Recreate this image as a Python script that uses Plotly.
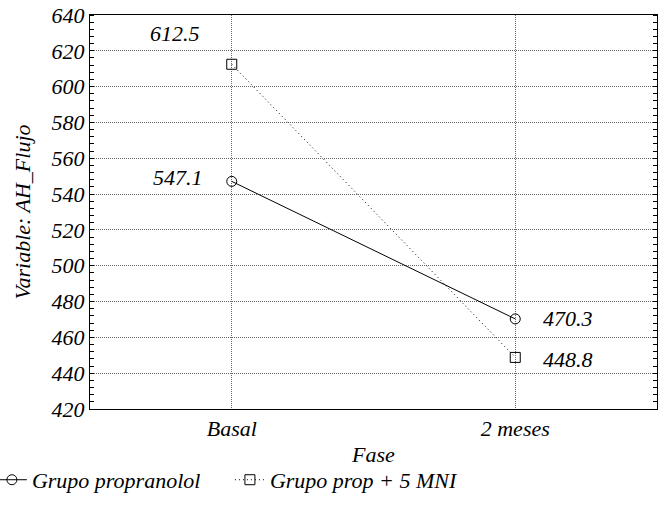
import plotly.graph_objects as go

categories = ["Basal", "2 meses"]
propranolol = [547.1, 470.3]
prop_mni = [612.5, 448.8]
series_names = ["Grupo propranolol", "Grupo prop + 5 MNI"]
y_ticks = list(range(420, 641, 20))

FONT = "Liberation Serif"
FS = 22


def ital():
    return dict(family=FONT, size=FS, style="italic", color="black")


fig = go.Figure()
fig.add_trace(go.Scatter(
    x=categories, y=propranolol, name=series_names[0], mode="lines+markers",
    line=dict(color="black", width=1),
    marker=dict(symbol="circle-open", size=10, color="black", line=dict(width=1)),
))
fig.add_trace(go.Scatter(
    x=categories, y=prop_mni, name=series_names[1], mode="lines+markers",
    line=dict(color="black", width=1, dash="1px,3px"),
    marker=dict(symbol="square-open", size=10, color="black", line=dict(width=1)),
))

label_specs = [
    (categories[0], propranolol[0], "right", -27, 4),
    (categories[1], propranolol[1], "left", 26, 0),
    (categories[0], prop_mni[0], "right", -30, 31),
    (categories[1], prop_mni[1], "left", 26, -2),
]
for x, y, anchor, xs, ys in label_specs:
    fig.add_annotation(x=x, y=y, text=f"{y:.1f}", showarrow=False,
                       xanchor=anchor, yanchor="middle", xshift=xs, yshift=ys,
                       font=ital())

fig.update_layout(
    template="none",
    width=668, height=515,
    margin=dict(l=90, r=11, t=15, b=106, autoexpand=False),
    paper_bgcolor="white", plot_bgcolor="white",
    font=ital(),
    showlegend=True,
    legend=dict(orientation="h", x=-0.173, xanchor="left", y=-0.18, yanchor="middle",
                entrywidth=193, entrywidthmode="pixels",
                font=ital(), itemwidth=30, bgcolor="rgba(0,0,0,0)"),
)
fig.update_xaxes(
    type="category", range=[-0.5, 1.5], automargin=False,
    showline=True, linecolor="black", linewidth=1, mirror=True,
    showgrid=True, gridcolor="#666666", griddash="1px,1px", gridwidth=1,
    ticks="", tickfont=ital(),
    title=dict(text="Fase", font=ital(), standoff=6),
    zeroline=False,
)
fig.update_yaxes(
    range=[420, 640], tickvals=y_ticks, automargin=False,
    showline=True, linecolor="black", linewidth=1, mirror="allticks",
    showgrid=True, gridcolor="#666666", griddash="1px,1px", gridwidth=1,
    ticks="", tickfont=ital(),
    minor=dict(dtick=4, ticks="inside", ticklen=4, tickcolor="black", showgrid=False),
    title=dict(text="Variable: AH_Flujo", font=ital(), standoff=14),
    zeroline=False,
)

fig.write_html("out.html", config={"displayModeBar": False},
               post_script="document.body.style.margin='0';")
